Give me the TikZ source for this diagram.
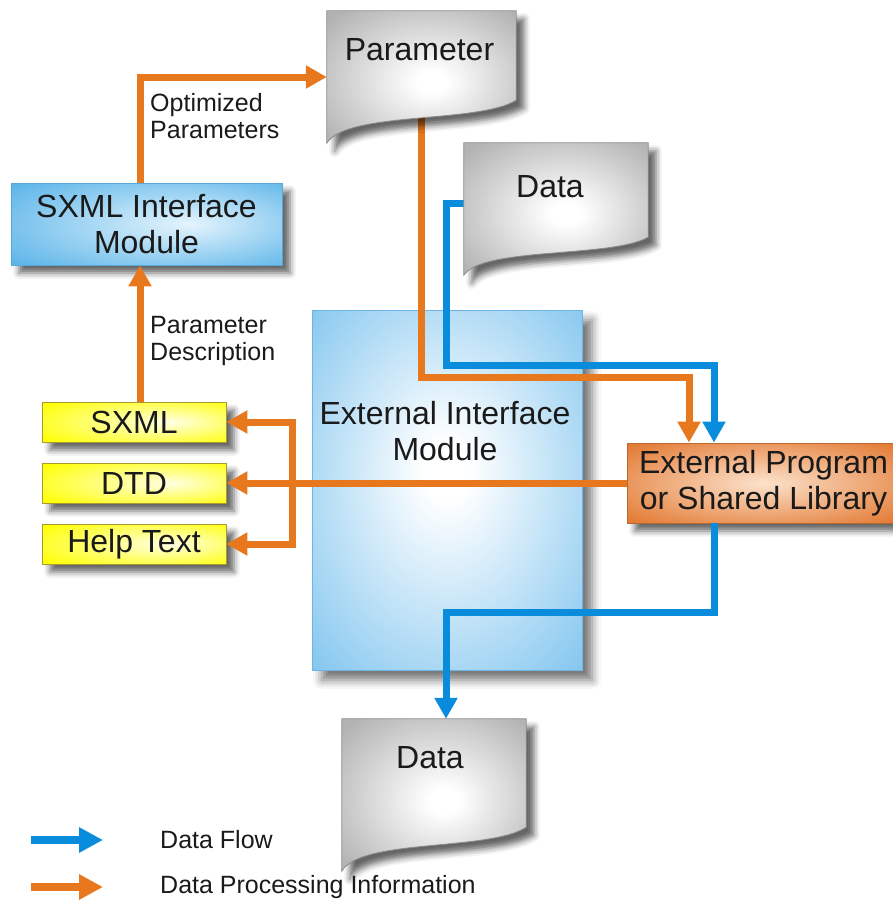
\documentclass[tikz,border=0pt]{standalone}
\usepackage{fontspec}
\setmainfont{Liberation Sans}
\usetikzlibrary{arrows.meta,calc,shadows.blur}
\definecolor{orangec}{HTML}{E8781E}
\definecolor{bluec}{HTML}{0A8CDC}
\definecolor{docout}{HTML}{B2B2B2}
\definecolor{docborder}{HTML}{8C8C8C}
\definecolor{eimout}{HTML}{7CC3EE}
\definecolor{eimborder}{HTML}{6EB4E4}
\definecolor{sxiout}{HTML}{5CB5E9}
\definecolor{sxiin}{HTML}{E4F4FD}
\definecolor{sxiborder}{HTML}{5AA8DA}
\definecolor{yelout}{HTML}{FFFF00}
\definecolor{yelin}{HTML}{FFFFE4}
\definecolor{yelborder}{HTML}{A89A30}
\definecolor{orout}{HTML}{E06E22}
\definecolor{orin}{HTML}{FCE2CC}
\definecolor{orborder}{HTML}{B8692E}
\definecolor{txt}{HTML}{1A1A1A}
\pgfdeclareradialshading{docshade}{\pgfpoint{3bp}{-2bp}}{color(0bp)=(white); color(4bp)=(white); color(34bp)=(docout); color(50bp)=(docout)}
\pgfdeclareradialshading{eimshade}{\pgfpoint{0bp}{3bp}}{color(0bp)=(white); color(4bp)=(white); color(38bp)=(eimout); color(50bp)=(eimout)}
\pgfdeclareradialshading{sxishade}{\pgfpoint{8bp}{0bp}}{color(0bp)=(sxiin); color(36bp)=(sxiout); color(50bp)=(sxiout)}
\pgfdeclareradialshading{yelshade}{\pgfpoint{10bp}{0bp}}{color(0bp)=(yelin); color(36bp)=(yelout); color(50bp)=(yelout)}
\pgfdeclareradialshading{orshade}{\pgfpoint{0bp}{0bp}}{color(0bp)=(orin); color(38bp)=(orout); color(50bp)=(orout)}
\newcommand{\docshape}[2]{%
  \path[draw=docborder, line width=0.8pt, shade, shading=docshade, shad]
  let \p1=(#1.north west), \p2=(#1.south east), \n1={\x2-\x1}, \n2={#2} in
  (\x1,\y1) -- (\x2,\y1) -- (\x2,\y2+\n2)
  .. controls (\x1+0.8*\n1,\y2+0.45*\n2) and (\x1+0.1*\n1,\y2+0.75*\n2) .. (\x1,\y2) -- cycle;}
\begin{document}
\begin{tikzpicture}[x=1pt,y=-1pt,
  shad/.style={blur shadow={shadow xshift=8pt,shadow yshift=-8pt,shadow blur radius=6pt,shadow opacity=60}},
  bigshad/.style={blur shadow={shadow xshift=10pt,shadow yshift=-10pt,shadow blur radius=9pt,shadow opacity=55}},
  boxtext/.style={text=txt, font=\fontsize{32}{36}\selectfont, align=center},
  lbl/.style={text=txt, font=\fontsize{25}{27}\selectfont, align=left, anchor=west, inner sep=0pt},
  docrect/.style={inner sep=0pt, draw=none},
  ybox/.style={shade, shading=yelshade, draw=yelborder, line width=0.8pt, minimum width=184pt, minimum height=40pt, inner sep=0pt, boxtext, shad},
  sxibox/.style={shade, shading=sxishade, draw=sxiborder, line width=0.8pt, minimum width=271pt, minimum height=82pt, inner sep=0pt, boxtext, shad},
  orbox/.style={shade, shading=orshade, draw=orborder, line width=0.8pt, minimum width=273pt, minimum height=80pt, inner sep=0pt, boxtext, shad},
  eimbox/.style={shade, shading=eimshade, draw=eimborder, line width=0.8pt, minimum width=270pt, minimum height=360pt, inner sep=0pt, bigshad},
  oarrow/.style={draw=orangec, line width=7pt, line join=miter, -{Triangle[width=22pt,length=21pt]}},
  barrow/.style={draw=bluec, line width=7pt, line join=miter, -{Triangle[width=22pt,length=21pt]}},
]
\useasboundingbox (0,0) rectangle (893,903);

% big module box
\node[eimbox] (eim) at (447,490) {};
\node[boxtext] (eimtxt) at ($(eim.north)+(-2,121)$) {External Interface\\Module};

% document frames (shapes drawn later)
\node[docrect, minimum width=189pt, minimum height=132pt] (param) at (421.5,77) {};
\node[docrect, minimum width=184pt, minimum height=132pt] (datatop) at (556,209) {};
\node[docrect, minimum width=184pt, minimum height=152pt] (databot) at (434,795) {};

% boxes
\node[sxibox] (sxmli) at (146.5,224) {SXML Interface\\Module};
\node[ybox] (sxml) at (134,422) {SXML};
\node[ybox] (dtd) at (134,483) {DTD};
\node[ybox] (help) at (134,544) {Help Text};
\node[orbox] (extprog) at (763.5,483) {External Program\\or Shared Library};

% labels
\node[lbl] (optlbl) at (150,116.5) {Optimized\\Parameters};
\node[lbl] (desclbl) at (150,340.5) {Parameter\\Description};

% helper coordinates
\coordinate (vx) at (140,0);
\coordinate (olev) at (0,377);
\coordinate (blev) at (446,365);
\coordinate (blow) at (0,612);
\coordinate (bx) at (446,0);
\coordinate (brx) at (292,0);
\coordinate (ein) at ($(extprog.north)+(-74.5,0)$);
\coordinate (din) at ($(extprog.north)+(-49.5,0)$);

% connectors
\draw[oarrow] (sxml.north -| vx) -- (sxmli.south -| vx);
\draw[oarrow] (sxmli.north -| vx) |- (param.west);
\draw[oarrow] (param.center) |- (olev -| ein) -- (ein);
\draw[barrow] ([yshift=6pt]datatop.west) -| (blev) -| (din);
\draw[barrow] (extprog.south -| din) |- (blow -| bx) -- (databot.north -| bx);
\draw[oarrow] (extprog.west) -- (dtd.east);
\draw[oarrow] (brx |- dtd.east) |- (sxml.east);
\draw[oarrow] (brx |- dtd.east) |- (help.east);

% document shapes and texts
\docshape{param}{43pt}
\docshape{datatop}{38pt}
\docshape{databot}{44pt}
\node[boxtext] (paramtxt) at ($(param.north)+(-2,39)$) {Parameter};
\node[boxtext] (datatoptxt) at ($(datatop.north)+(-6,44)$) {Data};
\node[boxtext] (databottxt) at ($(databot.north)+(-4,39)$) {Data};

% legend
\coordinate (lg1a) at (31,840);
\coordinate (lg1b) at (103,840);
\coordinate (lg2a) at (31,887);
\coordinate (lg2b) at (103,887);
\draw[barrow, line width=8pt, -{Triangle[width=24pt,length=24pt]}] (lg1a) -- (lg1b);
\draw[oarrow, line width=8pt, -{Triangle[width=24pt,length=24pt]}] (lg2a) -- (lg2b);
\node[lbl] (lgt1) at (160,840) {Data Flow};
\node[lbl] (lgt2) at (160,887) {Data Processing Information};
\end{tikzpicture}
\end{document}
